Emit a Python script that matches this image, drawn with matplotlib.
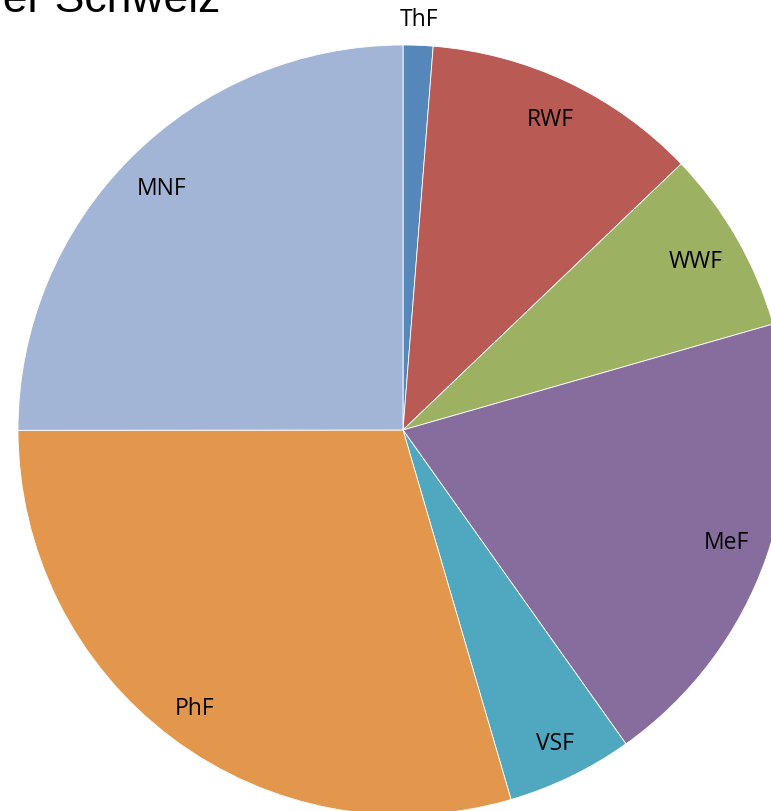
import numpy as np
import matplotlib
matplotlib.use("Agg")
import matplotlib.pyplot as plt

labels = ["ThF", "RWF", "WWF", "MeF", "VSF", "PhF", "MNF"]
shares = [1.25, 11.6, 7.7, 19.6, 5.3, 29.5, 25.0]
colors = ["#5587BA", "#BA5A54", "#9CB161", "#866D9E", "#50A8C0", "#E2974C", "#A3B5D6"]
# how far out each label sits, as a fraction of the radius
label_dist = [1.065, 0.89, 0.875, 0.89, 0.905, 0.905, 0.885]

cx, cy, r = 403, 381, 385

fig = plt.figure(figsize=(7.71, 8.11), dpi=100)
ax = fig.add_axes([0, 0, 1, 1])

wedges, texts = ax.pie(shares, labels=labels, colors=colors, startangle=90,
                       counterclock=False, center=(cx, cy), radius=r,
                       wedgeprops=dict(edgecolor="white", linewidth=0.6),
                       textprops=dict(fontsize=16.5, family="Open Sans"))

for w, t, d in zip(wedges, texts, label_dist):
    mid = np.deg2rad((w.theta1 + w.theta2) / 2)
    t.set_position((cx + d * r * np.cos(mid), cy + d * r * np.sin(mid)))
    t.set_ha("center")
    t.set_va("center")

ax.set_xlim(0, 771)
ax.set_ylim(0, 811)
ax.set_aspect("equal")
ax.axis("off")

fig.text(220 / 771, 1 - 12 / 811, "der Schweiz", ha="right", va="baseline",
         fontsize=32, family="Liberation Sans")

fig.savefig("out.png", dpi=100)
